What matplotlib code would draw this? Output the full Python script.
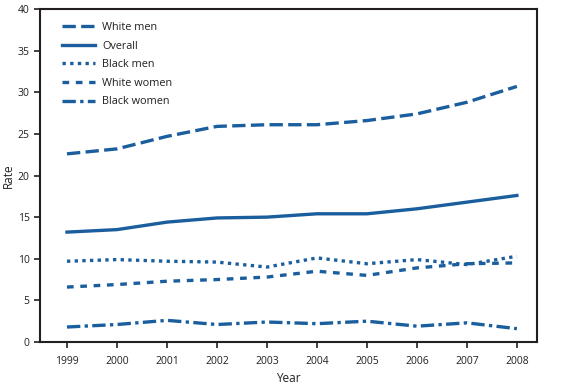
import matplotlib
matplotlib.use("Agg")
import matplotlib.pyplot as plt

years = [1999, 2000, 2001, 2002, 2003, 2004, 2005, 2006, 2007, 2008]
white_men = [22.6, 23.2, 24.7, 25.9, 26.1, 26.1, 26.6, 27.4, 28.8, 30.7]
overall = [13.2, 13.5, 14.4, 14.9, 15.0, 15.4, 15.4, 16.0, 16.8, 17.6]
black_men = [9.7, 9.9, 9.7, 9.6, 9.0, 10.1, 9.4, 9.9, 9.3, 10.3]
white_women = [6.6, 6.9, 7.3, 7.5, 7.8, 8.5, 8.0, 8.9, 9.4, 9.5]
black_women = [1.8, 2.1, 2.6, 2.1, 2.4, 2.2, 2.5, 1.9, 2.3, 1.6]

plt.rcParams['font.family'] = ['Open Sans', 'DejaVu Sans']
color = '#1b5e9e'
dark = '#231f20'

fig = plt.figure(figsize=(5.64, 3.87), dpi=100)
ax = fig.add_axes([0.0709, 0.1163, 0.881, 0.8604])

lw = 2.4
ax.plot(years, white_men, color=color, lw=lw, dashes=(4, 1.6), label='White men', dash_capstyle='butt')
ax.plot(years, overall, color=color, lw=lw, label='Overall')
ax.plot(years, black_men, color=color, lw=lw, dashes=(1, 1.3), label='Black men')
ax.plot(years, white_women, color=color, lw=lw, dashes=(2, 2), label='White women')
ax.plot(years, black_women, color=color, lw=lw, dashes=(4, 1.3, 1, 1.3), label='Black women')

ax.set_xlim(1998.46, 2008.4)
ax.set_ylim(0, 40)
ax.set_xticks(years)
ax.set_yticks(range(0, 41, 5))
for s in ax.spines.values():
    s.set_color(dark)
    s.set_linewidth(1.5)
ax.tick_params(axis='both', colors=dark, labelsize=7.5, length=4, width=1.2, direction='out')
ax.tick_params(axis='x', pad=6)
ax.set_xlabel('Year', fontsize=8.5, color=dark, labelpad=4)
ax.set_ylabel('Rate', fontsize=8.5, color=dark, labelpad=2)

leg = ax.legend(loc='upper left', frameon=False, fontsize=7.8, handlelength=3.0,
                labelspacing=0.7, handletextpad=0.7, bbox_to_anchor=(0.025, 0.99))
for t in leg.get_texts():
    t.set_color(dark)

fig.savefig('out.png', dpi=100)
